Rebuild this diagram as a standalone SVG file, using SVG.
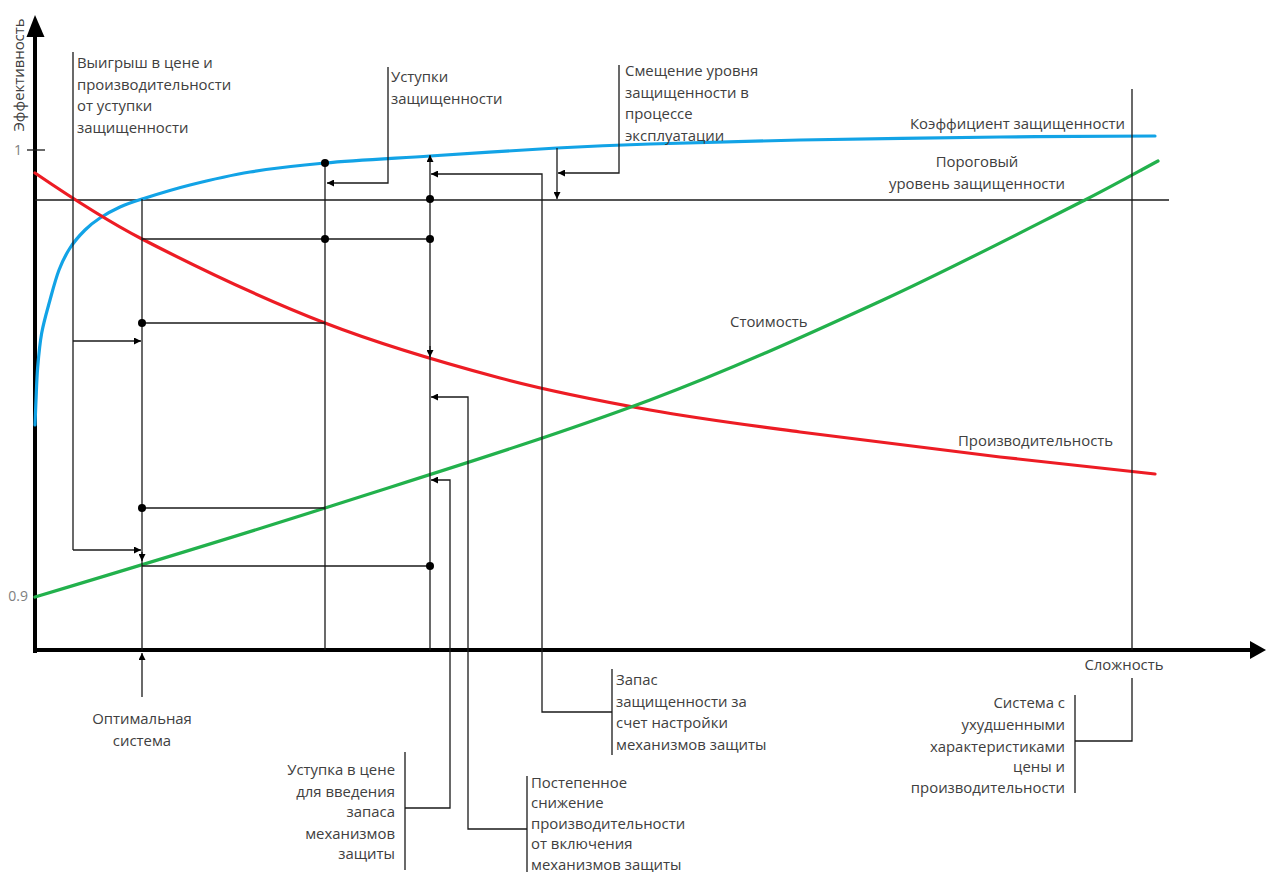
<svg xmlns="http://www.w3.org/2000/svg" width="1266" height="872" viewBox="0 0 1266 872">
  <defs>
    <style>
      .ln { fill: none; stroke: #1a1a1a; stroke-width: 1.3; }
      .axis { fill: none; stroke: #000; stroke-width: 4; }
      .curve { fill: none; stroke-width: 3.2; stroke-linejoin: round; stroke-linecap: round; }
      .lbl { font-family: "Open Sans", "Liberation Sans", sans-serif; font-size: 14.9px; fill: #404040; }
      .num { font-family: "Open Sans", "Liberation Sans", sans-serif; font-size: 14px; fill: #808080; }
      .end { text-anchor: end; }
      .mid { text-anchor: middle; }
      .dot { fill: #000; }
    </style>
    <marker id="ah" viewBox="0 0 8 8" refX="8" refY="4" markerWidth="7" markerHeight="7" markerUnits="userSpaceOnUse" orient="auto">
      <path d="M0,0 L8,4 L0,8 z" fill="#000"/>
    </marker>
  </defs>
  <rect width="1266" height="872" fill="#fff"/>

  <!-- axes -->
  <g id="axes">
    <path class="axis" d="M35,653 V32"/>
    <polygon points="35,15 26.5,37 44.5,37" fill="#000"/>
    <path class="axis" d="M33,650 H1252"/>
    <polygon points="1266,650 1250,641 1250,659" fill="#000"/>
    <path class="ln" d="M27,150 H45"/>
    <text class="num end" x="22" y="155">1</text>
    <text class="num end" x="28" y="601">0.9</text>
    <text class="lbl mid" transform="translate(24,75) rotate(-90)">Эффективность</text>
    <text class="lbl mid" x="1124" y="670">Сложность</text>
  </g>

  <!-- threshold level -->
  <g id="threshold">
    <path class="ln" d="M35,200 H1169"/>
    <text class="lbl mid" x="977" y="167">Пороговый</text>
    <text class="lbl mid" x="977" y="189">уровень защищенности</text>
  </g>

  <!-- curves -->
  <g id="curve-security">
    <path class="curve" stroke="#12a3e6" d="M35,425 C35.17,420.8 35.55,409.7 36,400 C36.45,390.3 36.75,378.2 37.7,367 C38.65,355.8 39.65,344.2 41.7,333 C43.75,321.8 47.12,310.5 50,300 C52.88,289.5 55.67,278.7 59,270 C62.33,261.3 65.67,254.7 70,248 C74.33,241.3 80,235 85,230 C90,225 94.17,221.8 100,218 C105.83,214.2 113,210.2 120,207 C127,203.8 130.33,202.7 142,199 C153.67,195.33 172,189.5 190,185 C208,180.5 227.5,175.7 250,172 C272.5,168.3 295,165.7 325,163 C355,160.3 391.3,158.5 430,156 C468.7,153.5 520.3,150 557,148 C593.7,146 609.5,145.3 650,144 C690.5,142.7 741.7,141.2 800,140 C858.3,138.8 940.8,137.7 1000,137 C1059.2,136.3 1129.2,136.2 1155,136"/>
    <text class="lbl" x="910" y="129">Коэффициент защищенности</text>
  </g>
  <g id="curve-performance">
    <path class="curve" stroke="#ed1c24" d="M35,173 C70.67,197.3 106.33,220.6 142,239 C203,270.5 264,299.3 325,323 C383.33,345.6 441.67,362.4 500,378 C550,391.4 600,401 650,410 C700,419 750,425.3 800,432 C866.67,440.9 933.33,449.1 1000,457 C1051.67,463.1 1103.33,468.6 1155,474"/>
    <text class="lbl" x="958" y="446">Производительность</text>
  </g>
  <g id="curve-cost">
    <path class="curve" stroke="#22b14c" d="M35,597 C131.67,568 228.33,538.9 325,508 C433.33,473.3 541.67,440.4 650,400 C727.67,371 805.33,335.7 883,300 C950.33,269 1017.67,234 1085,200 C1109.33,187.7 1133.67,174.1 1158,161"/>
    <text class="lbl" x="730" y="327">Стоимость</text>
  </g>

  <!-- connectors -->
  <g id="connectors">
    <!-- gain from security concession -->
    <path class="ln" d="M73,52 V550"/>
    <path class="ln" d="M73,341 H141" marker-end="url(#ah)"/>
    <path class="ln" d="M73,550 H141" marker-end="url(#ah)"/>
    <!-- optimal system -->
    <path class="ln" d="M142,199 V650"/>
    <path class="ln" d="M142,552 V561" marker-end="url(#ah)"/>
    <path class="ln" d="M142,697 V653" marker-end="url(#ah)"/>
    <path class="ln" d="M142,239 H430"/>
    <path class="ln" d="M142,323 H325"/>
    <path class="ln" d="M142,508 H325"/>
    <path class="ln" d="M142,566 H430"/>
    <!-- concession system -->
    <path class="ln" d="M325,163 V650"/>
    <path class="ln" d="M388,67 V183 H327" marker-end="url(#ah)"/>
    <!-- system with margin -->
    <path class="ln" d="M430,650 V155" marker-end="url(#ah)"/>
    <path class="ln" d="M430,346 V357" marker-end="url(#ah)"/>
    <path class="ln" d="M612,712 H542 V174 H431" marker-end="url(#ah)"/>
    <path class="ln" d="M527,829 H468 V397 H431" marker-end="url(#ah)"/>
    <path class="ln" d="M405,808 H450 V480 H431" marker-end="url(#ah)"/>
    <!-- drift during operation -->
    <path class="ln" d="M619,65 V173 H558" marker-end="url(#ah)"/>
    <path class="ln" d="M557,148 V199" marker-end="url(#ah)"/>
    <!-- degraded system -->
    <path class="ln" d="M1132,89 V650"/>
    <path class="ln" d="M1132,678 V741 H1075"/>
    <!-- label brackets -->
    <path class="ln" d="M612,669 V755"/>
    <path class="ln" d="M527,776 V872"/>
    <path class="ln" d="M405,752 V870"/>
    <path class="ln" d="M1075,695 V793"/>
    <!-- points -->
    <circle class="dot" cx="142" cy="323" r="4"/>
    <circle class="dot" cx="142" cy="508" r="4"/>
    <circle class="dot" cx="325" cy="163" r="4"/>
    <circle class="dot" cx="325" cy="239" r="4"/>
    <circle class="dot" cx="430" cy="199" r="4"/>
    <circle class="dot" cx="430" cy="239" r="4"/>
    <circle class="dot" cx="430" cy="566" r="4"/>
  </g>

  <!-- annotation labels -->
  <g id="note-gain">
    <text class="lbl" x="77" y="68">Выигрыш в цене и</text>
    <text class="lbl" x="77" y="90">производительности</text>
    <text class="lbl" x="77" y="111">от уступки</text>
    <text class="lbl" x="77" y="133">защищенности</text>
  </g>
  <g id="note-concession">
    <text class="lbl" x="391" y="82">Уступки</text>
    <text class="lbl" x="391" y="104">защищенности</text>
  </g>
  <g id="note-drift">
    <text class="lbl" x="625" y="76">Смещение уровня</text>
    <text class="lbl" x="625" y="98">защищенности в</text>
    <text class="lbl" x="625" y="119">процессе</text>
    <text class="lbl" x="625" y="141">эксплуатации</text>
  </g>
  <g id="note-optimal">
    <text class="lbl mid" x="142" y="724">Оптимальная</text>
    <text class="lbl mid" x="142" y="746">система</text>
  </g>
  <g id="note-margin">
    <text class="lbl" x="616" y="685">Запас</text>
    <text class="lbl" x="616" y="707">защищенности за</text>
    <text class="lbl" x="616" y="728">счет настройки</text>
    <text class="lbl" x="616" y="750">механизмов защиты</text>
  </g>
  <g id="note-price">
    <text class="lbl end" x="395" y="775">Уступка в цене</text>
    <text class="lbl end" x="395" y="797">для введения</text>
    <text class="lbl end" x="395" y="817">запаса</text>
    <text class="lbl end" x="395" y="839">механизмов</text>
    <text class="lbl end" x="395" y="859">защиты</text>
  </g>
  <g id="note-decline">
    <text class="lbl" x="531" y="788">Постепенное</text>
    <text class="lbl" x="531" y="808">снижение</text>
    <text class="lbl" x="531" y="829">производительности</text>
    <text class="lbl" x="531" y="849">от включения</text>
    <text class="lbl" x="531" y="870">механизмов защиты</text>
  </g>
  <g id="note-degraded">
    <text class="lbl end" x="1065" y="708">Система с</text>
    <text class="lbl end" x="1065" y="730">ухудшенными</text>
    <text class="lbl end" x="1065" y="752">характеристиками</text>
    <text class="lbl end" x="1065" y="772">цены и</text>
    <text class="lbl end" x="1065" y="793">производительности</text>
  </g>
</svg>
